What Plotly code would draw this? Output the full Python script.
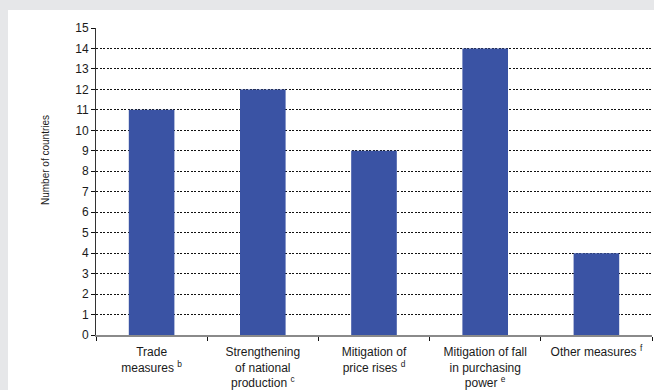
import plotly.graph_objects as go

categories = [
    "Trade<br>measures <sup>b</sup>",
    "Strengthening<br>of national<br>production <sup>c</sup>",
    "Mitigation of<br>price rises <sup>d</sup>",
    "Mitigation of fall<br>in purchasing<br>power <sup>e</sup>",
    "Other measures <sup>f</sup>",
]
countries = [11, 12, 9, 14, 4]
y_ticks = list(range(0, 16))

W, H = 654, 390
M_L, M_R, M_T, M_B = 96, 2, 28, 55

fig = go.Figure(
    go.Bar(
        x=categories,
        y=countries,
        marker=dict(color="#3a53a4", line=dict(width=0)),
        width=0.41,
    )
)

fig.update_layout(
    width=W,
    height=H,
    margin=dict(l=M_L, r=M_R, t=M_T, b=M_B, autoexpand=False),
    paper_bgcolor="#e6e7e9",
    plot_bgcolor="white",
    showlegend=False,
    font=dict(family="Liberation Sans, Arial, sans-serif", size=12, color="#1a1a1a"),
)

# white panel behind the chart
fig.add_shape(
    type="rect", xref="paper", yref="paper", layer="below",
    x0=(8 - M_L) / (W - M_L - M_R), x1=1 + M_R / (W - M_L - M_R),
    y0=-M_B / (H - M_T - M_B), y1=1 + (M_T - 10) / (H - M_T - M_B),
    fillcolor="white", line=dict(width=0),
)

fig.update_xaxes(
    automargin=False,
    showline=True, linecolor="#8a8a8a", linewidth=1.5,
    ticks="outside", tickson="boundaries", ticklen=4, tickcolor="#111",
    tickwidth=1, showgrid=False, tickangle=0, ticklabelstandoff=5,
    tickfont=dict(size=12, color="#1a1a1a"),
)

fig.update_yaxes(
    automargin=False,
    range=[0, 15], tickvals=y_ticks, autorange=False,
    showline=True, linecolor="#333", linewidth=1,
    ticks="outside", ticklen=4, tickcolor="#111", tickwidth=1,
    showgrid=True, gridcolor="#111", gridwidth=1.4, griddash="2px,1.5px",
    zeroline=False,
    tickfont=dict(size=12, color="#1a1a1a"),
)

fig.add_annotation(
    text="Number of countries", textangle=-90,
    xref="paper", yref="paper",
    x=(45 - M_L) / (W - M_L - M_R), y=(H - M_B - 160) / (H - M_T - M_B),
    xanchor="center", yanchor="middle", showarrow=False,
    font=dict(size=10, color="#1a1a1a"),
)

fig.write_html("out.html")
